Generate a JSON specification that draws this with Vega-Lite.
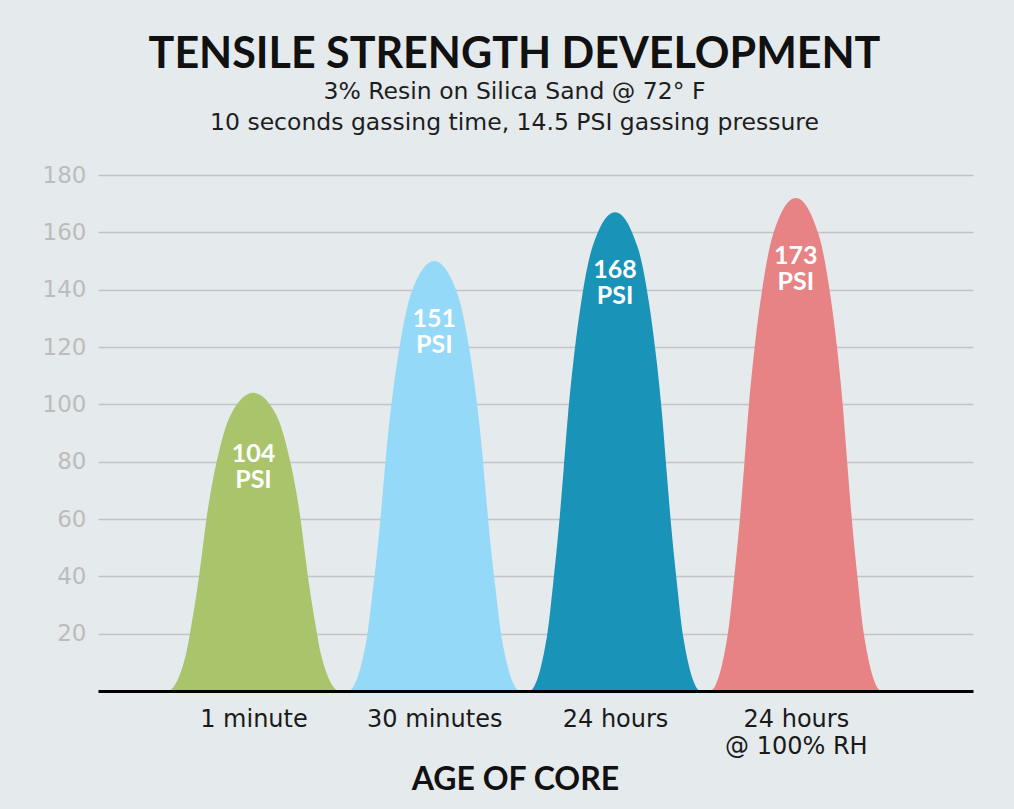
{
  "$schema": "https://vega.github.io/schema/vega-lite/v6.json",
  "autosize": {"type": "none"},
  "width": 875,
  "height": 516,
  "padding": {"left": 98, "top": 175, "right": 41, "bottom": 118},
  "background": "#e5eaed",
  "title": {
    "text": "TENSILE STRENGTH DEVELOPMENT",
    "subtitle": ["3% Resin on Silica Sand @ 72° F", "10 seconds gassing time, 14.5 PSI gassing pressure"],
    "anchor": "middle",
    "dx": -21,
    "offset": 30,
    "font": "Lato",
    "fontSize": 43,
    "fontWeight": "bold",
    "color": "#111111",
    "subtitleFont": "DejaVu Sans",
    "subtitleFontSize": 23.5,
    "subtitleFontWeight": "normal",
    "subtitleColor": "#1e1e1e",
    "subtitleLineHeight": 31,
    "subtitlePadding": 3
  },
  "datasets": {
    "curve": [
      {"cat": "1 minute", "x": 0.48, "y": 0},
      {"cat": "1 minute", "x": 0.524, "y": 0},
      {"cat": "1 minute", "x": 0.624, "y": 12.1},
      {"cat": "1 minute", "x": 0.659, "y": 23.9},
      {"cat": "1 minute", "x": 0.69, "y": 36.1},
      {"cat": "1 minute", "x": 0.715, "y": 47.8},
      {"cat": "1 minute", "x": 0.74, "y": 60.1},
      {"cat": "1 minute", "x": 0.77, "y": 71.8},
      {"cat": "1 minute", "x": 0.812, "y": 84.2},
      {"cat": "1 minute", "x": 0.873, "y": 96.2},
      {"cat": "1 minute", "x": 1.0, "y": 104},
      {"cat": "1 minute", "x": 1.127, "y": 96.2},
      {"cat": "1 minute", "x": 1.188, "y": 84.2},
      {"cat": "1 minute", "x": 1.23, "y": 71.8},
      {"cat": "1 minute", "x": 1.26, "y": 60.1},
      {"cat": "1 minute", "x": 1.285, "y": 47.8},
      {"cat": "1 minute", "x": 1.31, "y": 36.1},
      {"cat": "1 minute", "x": 1.341, "y": 23.9},
      {"cat": "1 minute", "x": 1.376, "y": 12.1},
      {"cat": "1 minute", "x": 1.476, "y": 0},
      {"cat": "1 minute", "x": 1.52, "y": 0},
      {"cat": "30 minutes", "x": 1.48, "y": 0},
      {"cat": "30 minutes", "x": 1.524, "y": 0},
      {"cat": "30 minutes", "x": 1.624, "y": 17.4},
      {"cat": "30 minutes", "x": 1.659, "y": 34.5},
      {"cat": "30 minutes", "x": 1.69, "y": 52},
      {"cat": "30 minutes", "x": 1.715, "y": 69},
      {"cat": "30 minutes", "x": 1.74, "y": 86.7},
      {"cat": "30 minutes", "x": 1.77, "y": 103.5},
      {"cat": "30 minutes", "x": 1.812, "y": 121.5},
      {"cat": "30 minutes", "x": 1.873, "y": 138.8},
      {"cat": "30 minutes", "x": 2.0, "y": 150},
      {"cat": "30 minutes", "x": 2.127, "y": 138.8},
      {"cat": "30 minutes", "x": 2.188, "y": 121.5},
      {"cat": "30 minutes", "x": 2.23, "y": 103.5},
      {"cat": "30 minutes", "x": 2.26, "y": 86.7},
      {"cat": "30 minutes", "x": 2.285, "y": 69},
      {"cat": "30 minutes", "x": 2.31, "y": 52},
      {"cat": "30 minutes", "x": 2.341, "y": 34.5},
      {"cat": "30 minutes", "x": 2.376, "y": 17.4},
      {"cat": "30 minutes", "x": 2.476, "y": 0},
      {"cat": "30 minutes", "x": 2.52, "y": 0},
      {"cat": "24 hours", "x": 2.48, "y": 0},
      {"cat": "24 hours", "x": 2.524, "y": 0},
      {"cat": "24 hours", "x": 2.624, "y": 19.4},
      {"cat": "24 hours", "x": 2.659, "y": 38.4},
      {"cat": "24 hours", "x": 2.69, "y": 57.9},
      {"cat": "24 hours", "x": 2.715, "y": 76.8},
      {"cat": "24 hours", "x": 2.74, "y": 96.5},
      {"cat": "24 hours", "x": 2.77, "y": 115.2},
      {"cat": "24 hours", "x": 2.812, "y": 135.3},
      {"cat": "24 hours", "x": 2.873, "y": 154.5},
      {"cat": "24 hours", "x": 3.0, "y": 167},
      {"cat": "24 hours", "x": 3.127, "y": 154.5},
      {"cat": "24 hours", "x": 3.188, "y": 135.3},
      {"cat": "24 hours", "x": 3.23, "y": 115.2},
      {"cat": "24 hours", "x": 3.26, "y": 96.5},
      {"cat": "24 hours", "x": 3.285, "y": 76.8},
      {"cat": "24 hours", "x": 3.31, "y": 57.9},
      {"cat": "24 hours", "x": 3.341, "y": 38.4},
      {"cat": "24 hours", "x": 3.376, "y": 19.4},
      {"cat": "24 hours", "x": 3.476, "y": 0},
      {"cat": "24 hours", "x": 3.52, "y": 0},
      {"cat": "24 hours @ 100% RH", "x": 3.48, "y": 0},
      {"cat": "24 hours @ 100% RH", "x": 3.524, "y": 0},
      {"cat": "24 hours @ 100% RH", "x": 3.624, "y": 20},
      {"cat": "24 hours @ 100% RH", "x": 3.659, "y": 39.6},
      {"cat": "24 hours @ 100% RH", "x": 3.69, "y": 59.7},
      {"cat": "24 hours @ 100% RH", "x": 3.715, "y": 79.1},
      {"cat": "24 hours @ 100% RH", "x": 3.74, "y": 99.4},
      {"cat": "24 hours @ 100% RH", "x": 3.77, "y": 118.7},
      {"cat": "24 hours @ 100% RH", "x": 3.812, "y": 139.3},
      {"cat": "24 hours @ 100% RH", "x": 3.873, "y": 159.1},
      {"cat": "24 hours @ 100% RH", "x": 4.0, "y": 172},
      {"cat": "24 hours @ 100% RH", "x": 4.127, "y": 159.1},
      {"cat": "24 hours @ 100% RH", "x": 4.188, "y": 139.3},
      {"cat": "24 hours @ 100% RH", "x": 4.23, "y": 118.7},
      {"cat": "24 hours @ 100% RH", "x": 4.26, "y": 99.4},
      {"cat": "24 hours @ 100% RH", "x": 4.285, "y": 79.1},
      {"cat": "24 hours @ 100% RH", "x": 4.31, "y": 59.7},
      {"cat": "24 hours @ 100% RH", "x": 4.341, "y": 39.6},
      {"cat": "24 hours @ 100% RH", "x": 4.376, "y": 20},
      {"cat": "24 hours @ 100% RH", "x": 4.476, "y": 0},
      {"cat": "24 hours @ 100% RH", "x": 4.52, "y": 0}
    ],
    "peaks": [
      {"cat": "1 minute", "x": 1, "value": 104},
      {"cat": "30 minutes", "x": 2, "value": 151},
      {"cat": "24 hours", "x": 3, "value": 168},
      {"cat": "24 hours @ 100% RH", "x": 4, "value": 173}
    ]
  },
  "layer": [
    {
      "data": {"name": "curve"},
      "mark": {"type": "area", "interpolate": "monotone", "clip": true},
      "encoding": {
        "x": {
          "field": "x", "type": "quantitative",
          "scale": {"domain": [0.14, 4.98], "nice": false, "zero": false},
          "axis": {
            "values": [1, 2, 3, 4],
            "labelExpr": "datum.value == 1 ? '1 minute' : datum.value == 2 ? '30 minutes' : datum.value == 3 ? '24 hours' : ['24 hours', '@ 100% RH']",
            "title": "AGE OF CORE",
            "titleFont": "Lato",
            "titleFontSize": 32,
            "titleFontWeight": "bold",
            "titleColor": "#111111",
            "titlePadding": 6,
            "titleX": 417,
            "titleAlign": "center",
            "labelFont": "DejaVu Sans",
            "labelFontSize": 24,
            "labelFontWeight": "normal",
            "labelColor": "#1a1a1a",
            "labelPadding": 16,
            "labelLineHeight": 27,
            "labelOverlap": false,
            "labelFlush": false,
            "labelBound": false,
            "ticks": false,
            "grid": false,
            "domain": true,
            "domainColor": "#000000",
            "domainWidth": 3,
            "zindex": 2
          }
        },
        "y": {
          "field": "y", "type": "quantitative", "stack": null,
          "scale": {"domain": [0, 180], "nice": false},
          "axis": {
            "values": [20, 40, 60, 80, 100, 120, 140, 160, 180],
            "title": null,
            "labelFont": "DejaVu Sans",
            "labelFontSize": 23,
            "labelFontWeight": "normal",
            "labelColor": "#bcbcbc",
            "labelPadding": 12,
            "ticks": false,
            "domain": false,
            "grid": true,
            "gridColor": "#c2c4c6",
            "gridWidth": 1.5,
            "zindex": 0
          }
        },
        "color": {
          "field": "cat", "type": "nominal", "legend": null,
          "scale": {
            "domain": ["1 minute", "30 minutes", "24 hours", "24 hours @ 100% RH"],
            "range": ["#aac46c", "#94d9f8", "#1a93b8", "#e78384"]
          }
        }
      }
    },
    {
      "data": {"name": "peaks"},
      "mark": {"type": "text", "font": "Lato", "fontSize": 25, "fontWeight": "bold", "color": "#ffffff", "baseline": "middle", "align": "center", "dy": 61},
      "encoding": {
        "x": {"field": "x", "type": "quantitative"},
        "y": {"field": "value", "type": "quantitative"},
        "text": {"field": "value", "type": "quantitative"}
      }
    },
    {
      "data": {"name": "peaks"},
      "mark": {"type": "text", "font": "Lato", "fontSize": 25, "fontWeight": "bold", "color": "#ffffff", "baseline": "middle", "align": "center", "dy": 87, "text": "PSI"},
      "encoding": {
        "x": {"field": "x", "type": "quantitative"},
        "y": {"field": "value", "type": "quantitative"}
      }
    }
  ],
  "config": {"view": {"stroke": null}}
}
